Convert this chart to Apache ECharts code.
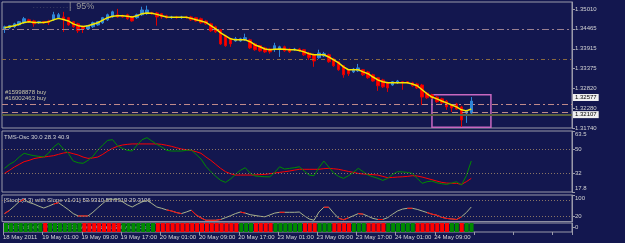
<!DOCTYPE html>
<html><head><meta charset="utf-8">
<script src="https://cdn.jsdelivr.net/npm/echarts@6/dist/echarts.min.js"></script>
<style>html,body{margin:0;padding:0;background:#13174f;}#c{width:625px;height:243px;}</style>
</head><body><div id="c"></div>
<script>
// ---------- DATA ----------
const tickLabels = ['18 May 2011','19 May 01:00','19 May 09:00','19 May 17:00','20 May 01:00','20 May 09:00','20 May 17:00','23 May 01:00','23 May 09:00','23 May 17:00','24 May 01:00','24 May 09:00'];
const slotCount = 116; // hourly slots visible on the chart (96 bars + empty right margin)
// [open, close, low, high]
const candles = [
[1.3446,1.3452,1.3435,1.3455],[1.3449,1.3455,1.3446,1.3457],[1.3452,1.3460,1.3449,1.3463],[1.3457,1.3466,1.3455,1.3468],
[1.3463,1.3474,1.3460,1.3479],[1.3471,1.3466,1.3463,1.3474],[1.3468,1.3460,1.3452,1.3471],[1.3463,1.3466,1.3460,1.3468],
[1.3466,1.3463,1.3460,1.3468],[1.3468,1.3463,1.3457,1.3471],[1.3471,1.3485,1.3468,1.3493],[1.3477,1.3485,1.3474,1.3490],
[1.3479,1.3471,1.3438,1.3493],[1.3477,1.3457,1.3455,1.3479],[1.3466,1.3452,1.3449,1.3468],[1.3460,1.3441,1.3435,1.3463],
[1.3452,1.3446,1.3435,1.3455],[1.3446,1.3455,1.3444,1.3457],[1.3452,1.3463,1.3449,1.3466],[1.3457,1.3466,1.3455,1.3468],
[1.3463,1.3477,1.3460,1.3479],[1.3471,1.3485,1.3468,1.3488],[1.3479,1.3493,1.3477,1.3496],[1.3485,1.3479,1.3477,1.3501],
[1.3482,1.3479,1.3477,1.3485],[1.3485,1.3474,1.3471,1.3488],[1.3479,1.3468,1.3466,1.3482],[1.3477,1.3485,1.3474,1.3488],
[1.3485,1.3498,1.3482,1.3507],[1.3488,1.3498,1.3485,1.3510],[1.3490,1.3488,1.3485,1.3493],[1.3490,1.3479,1.3455,1.3493],
[1.3488,1.3479,1.3474,1.3490],[1.3482,1.3477,1.3474,1.3485],[1.3477,1.3479,1.3474,1.3482],[1.3479,1.3477,1.3474,1.3482],
[1.3477,1.3479,1.3474,1.3482],[1.3479,1.3477,1.3474,1.3482],[1.3479,1.3471,1.3468,1.3482],[1.3477,1.3468,1.3466,1.3479],
[1.3474,1.3463,1.3460,1.3477],[1.3468,1.3460,1.3457,1.3471],[1.3460,1.3441,1.3438,1.3463],[1.3452,1.3438,1.3435,1.3455],
[1.3444,1.3405,1.3402,1.3446],[1.3427,1.3400,1.3397,1.3430],[1.3419,1.3405,1.3397,1.3422],[1.3413,1.3419,1.3411,1.3424],
[1.3413,1.3419,1.3411,1.3422],[1.3416,1.3422,1.3413,1.3433],[1.3416,1.3394,1.3391,1.3419],[1.3405,1.3389,1.3386,1.3408],
[1.3400,1.3386,1.3383,1.3402],[1.3394,1.3383,1.3380,1.3397],[1.3391,1.3383,1.3378,1.3394],[1.3391,1.3400,1.3383,1.3408],
[1.3391,1.3397,1.3369,1.3400],[1.3397,1.3386,1.3383,1.3400],[1.3391,1.3383,1.3380,1.3394],[1.3389,1.3391,1.3386,1.3394],
[1.3391,1.3386,1.3383,1.3394],[1.3389,1.3375,1.3372,1.3391],[1.3380,1.3367,1.3361,1.3383],[1.3375,1.3358,1.3342,1.3378],
[1.3367,1.3380,1.3364,1.3389],[1.3372,1.3378,1.3369,1.3383],[1.3375,1.3356,1.3353,1.3378],[1.3364,1.3345,1.3342,1.3367],
[1.3356,1.3334,1.3331,1.3358],[1.3345,1.3320,1.3312,1.3347],[1.3334,1.3323,1.3317,1.3336],[1.3328,1.3336,1.3325,1.3339],
[1.3331,1.3339,1.3328,1.3350],[1.3334,1.3320,1.3317,1.3336],[1.3328,1.3312,1.3309,1.3331],[1.3320,1.3303,1.3301,1.3323],
[1.3312,1.3290,1.3276,1.3314],[1.3306,1.3287,1.3284,1.3309],[1.3298,1.3284,1.3273,1.3301],[1.3292,1.3301,1.3290,1.3303],
[1.3298,1.3303,1.3295,1.3306],[1.3301,1.3298,1.3279,1.3303],[1.3301,1.3298,1.3295,1.3303],[1.3298,1.3290,1.3287,1.3301],
[1.3295,1.3284,1.3281,1.3298],[1.3292,1.3259,1.3237,1.3295],[1.3270,1.3257,1.3254,1.3273],[1.3265,1.3257,1.3254,1.3268],
[1.3259,1.3246,1.3243,1.3262],[1.3254,1.3243,1.3240,1.3257],[1.3248,1.3232,1.3224,1.3251],[1.3237,1.3229,1.3218,1.3240],
[1.3240,1.3226,1.3224,1.3243],[1.3232,1.3196,1.3177,1.3235],[1.3215,1.3221,1.3188,1.3224],[1.3215,1.3248,1.3213,1.3259]
];
const maLine = [1.3449,1.3452,1.3455,1.3459,1.3464,1.3466,1.3464,1.3464,1.3464,1.3466,1.3471,1.3475,1.3472,1.3468,1.3460,1.3455,
1.3453,1.3455,1.3459,1.3463,1.3470,1.3477,1.3481,1.3482,1.3482,1.3481,1.3479,1.3482,1.3488,1.3490,1.3489,1.3486,
1.3482,1.3479,1.3478,1.3478,1.3478,1.3478,1.3475,1.3471,1.3468,1.3464,1.3455,1.3446,1.3435,1.3427,1.3419,1.3416,
1.3416,1.3416,1.3411,1.3402,1.3397,1.3391,1.3389,1.3390,1.3391,1.3390,1.3389,1.3389,1.3387,1.3383,1.3378,1.3375,
1.3375,1.3375,1.3369,1.3361,1.3353,1.3342,1.3334,1.3334,1.3334,1.3328,1.3323,1.3314,1.3306,1.3301,1.3298,1.3298,
1.3298,1.3298,1.3298,1.3295,1.3290,1.3279,1.3268,1.3259,1.3254,1.3248,1.3243,1.3237,1.3232,1.3224,1.3221,1.3226];
const tmsRed = [31.7,34,36.5,38.5,40.5,41.5,42.8,43.5,44,44.5,45,46,47,47.5,46.5,45.5,44,43,43.3,44,46,48.5,50.5,52,
53,53.5,53.8,53.8,53.8,53.8,53.8,53.8,53.5,52.8,52,51,50,49.5,49,48,46.8,44,41.5,38.5,35.5,33,31.5,30.5,
30.5,30.5,30.5,30.6,30.8,31,31.5,32,32.5,33,33.5,34.2,34.8,34.8,34.8,34.8,34.8,35.3,35.5,35.2,34.8,34,33.2,32.5,
31.7,31.3,31,30.8,30.5,29.5,28.5,28.7,29,29.2,29.5,30,29.8,29,28,27,26,25,24.5,24.3,24.3,23.5,25.5,28];
const tmsGreen = [35.5,38.5,40.5,44,46.8,45.8,45,44.5,44,47,51.5,54.3,50,46.8,41,39.7,39.3,41.5,44.5,49.3,53,56.5,57,52.5,
50.5,49,48.5,53,57,58.5,56,53.5,51.5,49,48.5,48.5,48.5,49,49.3,46,42.5,37,33,29.5,26.5,25,27.5,31,
34,36,32,29.8,29.5,29.2,29.2,32.5,36.7,35,35.5,36,36.7,33.5,30.5,30,36,41,36.5,32,29.5,28,30,32.5,
35.5,33,30.5,29.2,28,26.5,28,31,33,32.8,32.5,31.7,28,24.3,25.5,26,24.7,24,23.5,24.5,25.5,23,30,41];
const stoch = [30,42,58,75,84,72,66,58,51,58,66,71,58,45,30,21,21,21,35,52,68,84,84,84,
75,63,55,65,74,80,68,55,50,44,40,34,30,36,43,25,14,5,5,5,8,15,22,30,
36,32,26,23,20,18,25,32,35,35,35,35,36,22,10,5,36,54,54,32,13,7,14,22,
30,28,20,12,8,8,15,28,40,47,50,50,46,40,34,28,24,16,12,10,8,18,34,55];
const stochRedBars = [0,1,3,4,10,11,15,16,17,33,34,35,36,38,39,40,41,42,43,44,48,49,56,57,65,66,68,69,70,72,73,76,77,82,83,86,87,88,89,90,91,92,93];
const heat = 'GGGGGGGG R GGGGGGG RRRRRRRR GGGGGGG RRRRRRRRRRRRRRRRR GGG RRRR GGGGGG RRR GGG RRRR GGG RRRR GGGGGG RRRRRRR GG R GG'.replace(/ /g,'').split('');
const priceTicks = [1.35010,1.34465,1.33915,1.33375,1.32820,1.32280,1.31740];
const tmsTicks = [63.5,50,32,17.8];
const stochTicks = [100,80,20];
const levelLines = [1.3446,1.3364,1.3240,1.3218];
const bidPrice = 1.32107, askPrice = 1.32577;
const boxPrices = [1.3265,1.3176]; const boxBars = [87,99];

// ---------- CHART ----------
const FONT = 'Liberation Sans';
const TXT = '#d4d4d4';
const cats = [];
for (let i = 0; i < slotCount; i++) cats.push(i % 8 === 0 && i / 8 < tickLabels.length ? tickLabels[i / 8] : '#' + i);

const gridBase = {left: 2, right: 53, show: true, borderColor: '#9a9aaa', borderWidth: 1, backgroundColor: 'transparent'};
const xa = (g, show) => ({
  type: 'category', gridIndex: g, data: cats, boundaryGap: true,
  axisLine: {show: false},
  axisTick: {show: show, interval: 7, length: 3, lineStyle: {color: '#9a9aaa'}},
  axisLabel: show ? {show: true, interval: 7, margin: 2, color: TXT, fontSize: 6, fontFamily: FONT, align: 'center',
     formatter: v => v.charAt(0) === '#' ? '' : '{t|' + v + '}', rich: {t: {width: 6, align: 'left'}}} : {show: false},
  splitLine: {show: false}
});
const ya = (g, min, max, ticks, fmt) => ({
  type: 'value', gridIndex: g, position: 'right', min: min, max: max,
  axisLine: {show: true, lineStyle: {color: '#9a9aaa'}},
  axisTick: {show: true, length: 3, customValues: ticks, lineStyle: {color: '#9a9aaa'}},
  axisLabel: {show: true, customValues: ticks, formatter: fmt, margin: 3, color: TXT, fontSize: 6, fontFamily: FONT,
    hideOverlap: false, showMinLabel: true, showMaxLabel: true,
    rich: {dn: {padding: [7, 0, 0, 0]}, up: {padding: [0, 0, 7, 0]}, dn2: {padding: [6, 0, 0, 0]}}},
  splitLine: {show: false}
});
const dotted = (vals) => ({
  silent: true, symbol: ['none', 'none'], label: {show: false}, precision: 5,
  lineStyle: {color: '#8a7565', type: [1, 2], width: 1},
  data: vals.map(v => ({yAxis: v}))
});
const boxLabel = (txt) => ({show: true, position: 'end', distance: 1, formatter: txt, backgroundColor: '#f0f0f0',
  color: '#000', fontSize: 6, fontFamily: FONT, padding: [1, 2, 0, 2]});

const option = {
  backgroundColor: '#13174f',
  animation: false,
  grid: [
    Object.assign({top: 2, height: 126}, gridBase),
    Object.assign({top: 131, height: 61}, gridBase),
    Object.assign({top: 195, height: 26.6}, gridBase),
    Object.assign({top: 223, height: 9}, gridBase)
  ],
  xAxis: [xa(0, false), xa(1, false), xa(2, false), xa(3, true)],
  yAxis: [
    ya(0, 1.3174, 1.3520, priceTicks, v => v.toFixed(5)),
    ya(1, 17.8, 63.5, tmsTicks, v => v === 63.5 ? '{dn|63.5}' : v === 17.8 ? '{up|17.8}' : String(v)),
    ya(2, 0, 100, stochTicks, v => v === 100 ? '{dn2|100}' : String(v)),
    ya(3, 0, 1, [0.5], v => '0')
  ],
  series: [
    {
      type: 'candlestick', xAxisIndex: 0, yAxisIndex: 0, data: candles, barWidth: 3,
      itemStyle: {color: '#2f86d8', color0: '#ff0000', borderColor: '#2f86d8', borderColor0: '#e00000', borderWidth: 1}
    },
    {type: 'line', xAxisIndex: 0, yAxisIndex: 0, data: maLine, symbol: 'none', z: 5,
      lineStyle: {color: '#f5e800', width: 1.5},
      markLine: {
        silent: true, symbol: ['none', 'none'], label: {show: false}, precision: 5,
        data: [
          {yAxis: levelLines[0], lineStyle: {color: '#9a8090', type: [7, 3, 2, 3], width: 1}},
          {yAxis: levelLines[1], lineStyle: {color: '#8a6a40', type: [4, 3, 1, 3], width: 1}},
          {yAxis: levelLines[2], lineStyle: {color: '#c08a8a', type: [6, 3, 2, 3], width: 1}},
          {yAxis: levelLines[3], lineStyle: {color: '#c08a8a', type: [6, 4], width: 1}},
          {yAxis: bidPrice, lineStyle: {color: '#5a6040', type: 'solid', width: 2}, label: boxLabel('1.32107')},
          {yAxis: askPrice, lineStyle: {color: 'rgba(0,0,0,0)', type: 'solid', width: 1}, label: boxLabel('1.32577')}
        ]
      },
      markArea: {
        silent: true, label: {show: false}, precision: 5,
        itemStyle: {color: 'rgba(0,0,0,0)', borderColor: '#c868c0', borderWidth: 1.5},
        data: [[{xAxis: boxBars[0], yAxis: boxPrices[0]}, {xAxis: boxBars[1], yAxis: boxPrices[1]}]]
      }
    },
    {type: 'line', xAxisIndex: 1, yAxisIndex: 1, data: tmsRed, symbol: 'none', lineStyle: {color: '#ff0000', width: 1},
      markLine: dotted([50, 32])},
    {type: 'line', xAxisIndex: 1, yAxisIndex: 1, data: tmsGreen, symbol: 'none', lineStyle: {color: '#008c00', width: 1}},
    {type: 'line', xAxisIndex: 2, yAxisIndex: 2, data: stoch, symbol: 'none', lineStyle: {color: '#a9b38f', width: 1},
      markLine: dotted([80, 20])},
    {type: 'line', xAxisIndex: 2, yAxisIndex: 2, symbol: 'none', connectNulls: false, lineStyle: {color: '#ff0000', width: 1},
      data: stoch.map((v, i) => stochRedBars.indexOf(i) >= 0 ? v : '-')},
    {type: 'bar', xAxisIndex: 3, yAxisIndex: 3, barCategoryGap: '18%',
      data: heat.map(s => ({value: 1, itemStyle: {color: s === 'G' ? '#008a00' : '#ff0000'}}))}
  ],
  graphic: [
    {type: 'text', left: 33, top: 3, style: {text: '. . . . . . . . . . . .', fill: '#8a8a8a', font: '6px ' + FONT}},
    {type: 'text', left: 69, top: 2, style: {text: '|  95%', fill: '#9a9a9a', font: '9px ' + FONT}},
    {type: 'text', left: 5, top: 89, style: {text: '#15998878 buy', fill: '#c8c4a8', font: '6px ' + FONT}},
    {type: 'text', left: 5, top: 95, style: {text: '#16002463 buy', fill: '#c8c4a8', font: '6px ' + FONT}},
    {type: 'text', left: 4, top: 134, style: {text: 'TMS-Osc 30.0 28.3 40.9', fill: TXT, font: '6px ' + FONT}},
    {type: 'text', left: 4, top: 197, style: {text: '[Stoch(8,3) with Slope v1.01] 53.9310 53.9310 29.3106', fill: TXT, font: '6px ' + FONT}},
    {type: 'text', left: 4, top: 224.5, style: {text: 'MetaTrader 4, \u00a9 2001-2011 MetaQuotes Software Corp.', fill: '#c8c8c8', font: '6px ' + FONT}}
  ]
};
const chart = echarts.init(document.getElementById('c'));
chart.setOption(option);
</script>
</body></html>
